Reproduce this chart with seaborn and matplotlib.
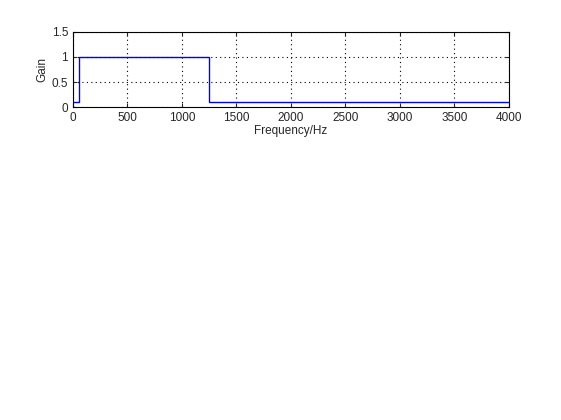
import numpy as np
import matplotlib
matplotlib.use('Agg')
import matplotlib.pyplot as plt
import seaborn as sns

freq = [0, 60, 60, 1250, 1250, 4000]
gain = [0.1, 0.1, 1.0, 1.0, 0.1, 0.1]

sns.set_style('ticks')
plt.rcParams['font.family'] = ['Liberation Sans', 'DejaVu Sans']
fig = plt.figure(figsize=(5.61, 4.2), dpi=100)
ax = fig.add_axes([0.130, 0.745, 0.777, 0.179])
sns.lineplot(x=freq, y=gain, ax=ax, color='blue', linewidth=1, sort=False, estimator=None)
ax.set_xlim(0, 4000)
ax.set_ylim(0, 1.5)
ax.set_xticks(np.arange(0, 4001, 500))
ax.set_yticks([0, 0.5, 1, 1.5])
ax.set_yticklabels(['0', '0.5', '1', '1.5'])
ax.grid(True, linestyle=(0, (1, 3)), color='black', linewidth=0.8)
for s in ax.spines.values():
    s.set_visible(True)
    s.set_color('black')
ax.tick_params(labelsize=8.5, direction='in', top=True, right=True, length=3)
ax.set_xlabel('Frequency/Hz', fontsize=8.5, labelpad=1)
ax.set_ylabel('Gain', fontsize=8.5, labelpad=2)
fig.savefig('out.png', dpi=100)
